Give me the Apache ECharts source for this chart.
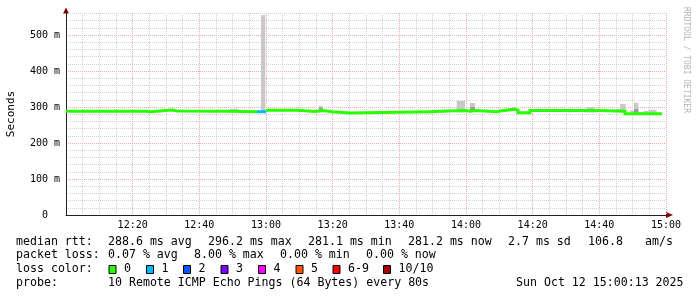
<!DOCTYPE html>
<html><head><meta charset="utf-8">
<script src="https://cdn.jsdelivr.net/npm/echarts@6/dist/echarts.min.js"></script>
<style>html,body{margin:0;padding:0;background:#fff}#c{width:697px;height:297px}</style>
</head><body><div id="c"></div>
<script>
// ---- data (x in minutes since 12:00) ----
const xTickLabels = ['12:00','12:20','12:40','13:00','13:20','13:40','14:00','14:20','14:40','15:00'];
const yTickLabels = ['0  ','100 m','200 m','300 m','400 m','500 m'];
// median rtt (ms): segment start times, values, loss count
const medianTime  = [0, 24, 25.2, 31.8, 33.3, 49.2, 57.3, 60, 69.3, 74.7, 75.9, 77.1, 79.8, 85.2, 109.2, 114.6, 119.7, 121.2, 122.7, 129.3, 130.2, 134.7, 135.6, 139.2, 159.6, 167.7, 178.8];
const medianValue = [288, 287, 291.5, 289, 288, 287, 287, 291, 287.5, 289, 290, 287, 283, 287, 289, 290, 288, 290, 287, 289, 294, 291, 284, 290, 288, 281, 281];
const medianLoss  = [0, 0, 0, 0, 0, 0, 1, 0, 0, 0, 0, 0, 0, 0, 0, 0, 0, 0, 0, 0, 0, 0, 0, 0, 0, 0, 0];
// smoke bands [start, end, low ms, high ms]
const lightSmoke = [
  [49.2, 51.7, 285, 295], [58.5, 59.8, 285, 555], [69.3, 70.2, 285, 290],
  [75.9, 77.1, 285, 303], [117.2, 119.7, 285, 317], [121.2, 122.7, 285, 311],
  [150.6, 151.7, 285, 294], [155.4, 159.6, 285, 294], [156.2, 158.7, 285, 300],
  [165.2, 167.7, 285, 294], [166.2, 167.9, 285, 308], [169.2, 170.4, 283, 290],
  [170.4, 171.7, 283, 312], [171.7, 173.2, 283, 286], [173.2, 174.7, 283, 289],
  [174.7, 177.2, 283, 292]
];
const darkSmoke = [
  [75.9, 77.1, 287, 298], [121.2, 122.7, 287, 300], [170.4, 171.7, 284, 294]
];
const lossColors = ['#26ff00','#00b8ff','#0059ff','#7e00ff','#ff00ff','#ff5500','#ff0000','#a00000'];
const lossColorLabels = ['0','1','2','3','4','5','6-9','10/10'];
const rowLabels = ['median rtt:', 'packet loss:', 'loss color:', 'probe:'];
const rttStats = ['288.6 ms avg','296.2 ms max','281.1 ms min','281.2 ms now','2.7 ms sd','106.8','am/s'];
const lossStats = ['0.07 % avg','8.00 % max','0.00 % min','0.00 % now'];
const probeText = '10 Remote ICMP Echo Pings (64 Bytes) every 80s';
const dateText = 'Sun Oct 12 15:00:13 2025';
const watermark = 'RRDTOOL / TOBI OETIKER';

// ---- build median series per loss colour ----
function lossSeriesData(loss) {
  const out = [];
  let open = false;
  for (let i = 0; i < medianTime.length - 1; i++) {
    if (medianLoss[i] === loss) {
      out.push([medianTime[i], medianValue[i]]);
      out.push([medianTime[i + 1], medianValue[i]]);
      open = true;
    } else if (open) { out.push(null); open = false; }
  }
  return out;
}
function smokeSeries(data, color) {
  return {
    type: 'custom', xAxisIndex: 1, yAxisIndex: 1, data: data, z: 2, silent: true,
    encode: { x: [0, 1], y: [2, 3] },
    renderItem: function (params, api) {
      const p0 = api.coord([api.value(0), api.value(3)]);
      const p1 = api.coord([api.value(1), api.value(2)]);
      return { type: 'rect', shape: { x: p0[0], y: p0[1], width: p1[0] - p0[0], height: p1[1] - p0[1] }, style: { fill: color } };
    }
  };
}

const FONT = '"DejaVu Sans Mono", monospace';
const MINOR = '#d2d2d2', MAJOR = '#f0a8a8', AXIS = '#212121', ARROW = '#8b0000';
const series = [smokeSeries(lightSmoke, '#c8c8c8'), smokeSeries(darkSmoke, '#9a9a9a')];
[0, 1].forEach(function (l) {
  series.push({ type: 'line', xAxisIndex: 1, yAxisIndex: 1, data: lossSeriesData(l), showSymbol: false, z: 3,
    lineStyle: { color: lossColors[l], width: 3, cap: 'butt', join: 'miter' }, silent: true, animation: false });
});

// ---- legend graphics ----
const g = [];
const rowY = [241.5, 255.2, 269, 282.8];
function txt(s, x, y, extra) {
  g.push(Object.assign({ type: 'text', x: x, y: y, silent: true,
    style: Object.assign({ text: s, font: '11.6px ' + FONT, fill: '#000', verticalAlign: 'middle', align: 'left' }, extra || {}) }));
}
rowLabels.forEach(function (s, i) { txt(s, 16, rowY[i]); });
[108, 208, 308, 408, 508, 588, 645].forEach(function (x, i) { txt(rttStats[i], x, rowY[0]); });
[108, 194, 280, 366].forEach(function (x, i) { txt(lossStats[i], x, rowY[1]); });
[108.5, 146, 183, 220.5, 258, 295.5, 332.5, 383].forEach(function (x, i) {
  g.push({ type: 'rect', silent: true, shape: { x: x + 0.5, y: 265.5, width: 7, height: 8 },
    style: { fill: lossColors[i], stroke: '#000', lineWidth: 1 } });
  txt(lossColorLabels[i], x + 15.5, rowY[2]);
});
txt(probeText, 108, rowY[3]);
txt(dateText, 516, rowY[3]);
g.push({ type: 'text', x: 686, y: 60, rotation: -Math.PI / 2, silent: true,
  style: { text: watermark, font: '8px ' + FONT, fill: '#b4b4b4', align: 'center', verticalAlign: 'middle' } });
g.push({ type: 'polygon', silent: true, shape: { points: [[63, 13.5], [69, 13.5], [66, 7.5]] }, style: { fill: ARROW } });
g.push({ type: 'polygon', silent: true, shape: { points: [[666, 212], [666, 218], [673, 215]] }, style: { fill: ARROW } });

const chart = echarts.init(document.getElementById('c'), null, { renderer: 'canvas' });
chart.setOption({
  animation: false,
  backgroundColor: '#fff',
  grid: { left: 66, right: 31, top: 13, bottom: 82, containLabel: false, outerBoundsMode: 'none' },
  xAxis: [
    { type: 'value', position: 'bottom', min: 0, max: 180, interval: 5, axisLine: { show: false }, axisTick: { show: false }, axisLabel: { show: false },
      splitLine: { show: true, lineStyle: { color: [MAJOR, MINOR, MINOR, MINOR], type: [1, 1], width: 1 } } },
    { type: 'value', position: 'bottom', min: 0, max: 180, interval: 20,
      axisLine: { show: true, onZero: false, lineStyle: { color: AXIS, width: 1 } }, axisTick: { show: false },
      axisLabel: { margin: 5, color: '#000', fontFamily: FONT, fontSize: 10,
        formatter: function (v) { return v === 0 ? '' : (xTickLabels[Math.round(v / 20)] || ''); } },
      splitLine: { show: false } }
  ],
  yAxis: [
    { type: 'value', position: 'left', min: 0, max: 561, interval: 20, axisLine: { show: false }, axisTick: { show: false }, axisLabel: { show: false },
      splitLine: { show: true, showMaxLine: false, lineStyle: { color: [MAJOR, MINOR, MINOR, MINOR, MINOR], type: [1, 1], width: 1 } } },
    { type: 'value', position: 'left', min: 0, max: 561, interval: 100,
      name: 'Seconds', nameLocation: 'middle', nameRotate: 90, nameGap: 49,
      nameTextStyle: { fontFamily: FONT, fontSize: 11, color: '#000' },
      axisLine: { show: true, onZero: false, lineStyle: { color: AXIS, width: 1 } }, axisTick: { show: false },
      axisLabel: { margin: 6, color: '#000', fontFamily: FONT, fontSize: 10,
        formatter: function (v) { const i = Math.round(v / 100); return (v % 100 === 0 && yTickLabels[i]) ? yTickLabels[i] : ''; } },
      splitLine: { show: false } }
  ],
  series: series,
  graphic: g
});
</script></body></html>
